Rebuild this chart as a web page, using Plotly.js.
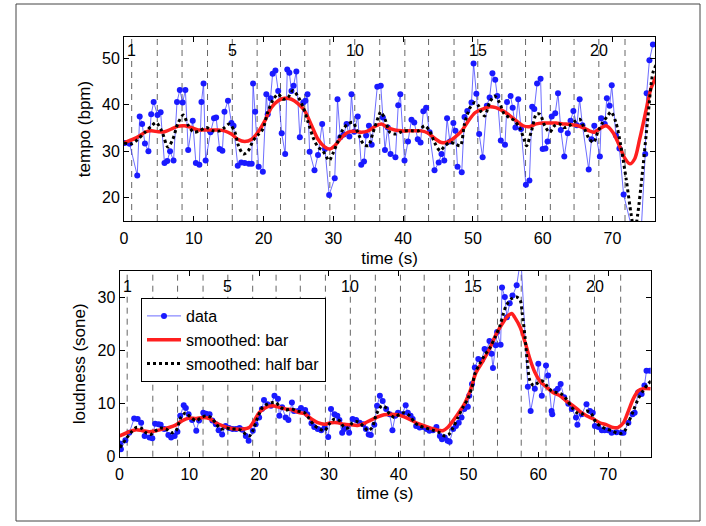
<!DOCTYPE html>
<html>
<head>
<meta charset="utf-8">
<script src="https://cdn.plot.ly/plotly-3.0.1.min.js"></script>
<style>
  html, body { margin: 0; padding: 0; background: #fff; }
  #chart { width: 706px; height: 526px; }
</style>
</head>
<body>
<div id="chart"></div>
<script>
// ---------- data ----------
// bar-line times (s), bars 1..21
const barTimes = [1.1, 4.77, 8.32, 11.97, 15.52, 19.08, 22.43, 25.9, 29.5, 33.07, 36.65,
  40.25, 43.65, 47.3, 50.7, 54.15, 57.55, 61.1, 64.5, 68.05, 71.8];
const barLabels = ["1", "5", "10", "15", "20"];
const barLabelIdx = [0, 4, 9, 14, 19];

// tempo (bpm) data
const tempoT = [0.1,0.8,1.9,2.25,2.6,3.0,3.5,3.9,4.25,4.8,5.25,5.8,6.2,6.6,7.1,7.6,8.0,8.4,8.8,9.2,
  9.85,10.3,10.8,11.1,11.4,11.7,12.4,12.9,13.2,13.7,14.1,14.4,14.9,15.4,15.7,16.3,16.8,17.3,17.9,18.3,
  18.5,18.8,19.3,19.9,20.4,20.6,21.0,21.3,21.7,22.1,22.6,23.1,23.4,23.7,24.0,24.3,24.7,25.2,25.7,26.0,
  26.3,26.6,27.3,27.8,28.4,28.8,29.4,30.2,30.6,31.0,31.5,31.9,32.3,32.6,33.0,33.5,34.0,34.4,34.7,35.1,
  35.5,36.3,36.8,37.1,37.4,37.8,38.2,38.9,39.3,39.6,40.2,40.7,41.2,41.6,42.1,42.5,42.9,43.3,43.8,44.5,
  45.1,45.5,45.9,46.3,46.7,47.2,47.5,47.8,48.4,48.8,49.2,49.8,50.1,50.5,50.9,51.4,52.0,52.4,52.8,53.2,
  53.5,54.0,54.6,54.9,55.4,55.7,56.1,56.5,56.9,57.6,58.1,58.5,58.8,59.2,59.7,60.0,60.4,60.7,61.3,61.8,
  62.2,62.6,63.1,63.6,64.0,64.4,64.9,65.3,65.7,66.6,67.0,67.4,68.2,68.4,68.9,69.2,69.6,69.9,70.5,71.0,
  71.6,73.0,73.9,74.7,74.9,75.3,75.8];
const tempoV = [31.8,31.6,24.8,37.5,35.9,31.7,30.0,38.0,40.6,37.8,38.4,27.5,27.9,30.0,28.0,40.6,43.2,40.5,43.2,30.3,
  36.6,27.5,27.1,40.6,44.6,28.0,34.1,37.1,37.3,30.5,30.1,38.5,40.9,36.1,35.5,26.9,27.6,27.5,27.3,27.3,
  44.6,38.5,26.7,25.6,42.3,38.0,41.4,46.7,47.4,43.0,33.9,29.4,47.6,46.9,43.0,44.1,47.2,33.0,40.5,40.9,
  42.3,29.9,25.9,29.2,35.9,30.5,20.6,24.2,41.2,33.0,33.6,35.9,33.2,42.3,34.2,37.5,27.1,27.8,33.4,35.5,
  31.4,43.9,44.1,37.3,30.3,35.1,29.4,28.7,39.9,42.3,28.0,32.1,36.8,36.2,32.6,31.9,38.6,39.4,34.1,25.9,
  27.6,29.4,28.0,37.1,32.1,36.1,34.4,26.7,25.5,37.4,38.7,40.5,48.9,42.4,33.7,28.7,39.8,41.6,46.8,45.4,
  41.9,32.3,31.4,40.6,41.9,39.4,35.1,41.2,34.8,22.8,23.7,39.6,39.1,44.6,45.6,30.5,30.6,32.1,37.5,38.2,
  42.5,34.6,28.9,33.9,36.6,38.7,35.6,41.2,35.6,26.1,32.6,35.5,28.9,37.1,35.9,41.4,39.8,44.2,33.4,30.6,
  20.7,11.5,6.5,29.4,42.5,49.6,53.0];

// tempo smoothed over one bar
const tempoBarT = [0,2,3,3.9,4.9,5.8,6.8,7.7,8.7,9.7,10.6,11.6,12.5,13.5,14.4,15.4,16.3,17.3,18.3,19.2,
  20.2,21.1,22.1,23.0,24.0,24.9,25.9,26.9,27.8,28.8,29.5,30.2,31.2,32.1,33.1,34.0,35.0,36.0,36.9,37.8,
  38.8,39.8,40.7,41.7,42.6,43.6,44.5,45.5,46.5,47.4,48.4,49.3,50.3,51.4,52.4,53.3,54.3,55.2,56.2,57.2,
  58.1,59.1,60.0,61.0,61.9,62.9,63.8,64.8,65.75,66.7,67.4,68.1,69.1,70.05,71.0,71.7,72.5,73.2,73.9,74.8,
  75.5,76.3];
const tempoBarV = [31.8,33.1,34.1,34.4,34.2,34.2,34.8,35.4,35.5,35.1,34.6,34.6,34.6,34.6,34.4,33.7,32.6,32.1,32.6,34.1,
  36.6,39.4,40.9,41.4,41.2,40.3,38.7,35.5,32.6,30.9,30.5,31.2,33.0,34.1,34.3,34.1,34.4,35.4,35.9,35.1,
  34.6,34.4,34.4,34.4,34.4,33.9,32.8,31.9,32.1,33.0,34.4,36.4,38.3,39.1,39.6,39.4,38.7,37.8,36.6,35.5,
  35.3,35.9,36.1,36.1,36.1,35.9,35.8,35.6,35.1,34.4,34.1,34.8,35.5,34.1,31.2,28.7,27.3,28.4,32.6,38.7,
  43.4,46.2];

// tempo smoothed over half a bar
const tempoHalfT = [0,1.05,2.0,3.0,3.9,4.6,5.4,6.3,7.0,7.7,8.5,9.2,10.0,10.8,11.8,12.8,13.7,14.4,15.1,15.9,
  16.4,17.1,17.8,18.5,19.2,19.9,20.6,21.4,22.1,22.8,23.5,24.2,24.9,25.7,26.4,27.1,27.8,28.5,29.4,29.9,
  30.7,31.4,32.1,32.8,33.5,34.3,35.0,35.7,36.5,36.8,37.4,38.1,38.9,39.6,40.2,41.2,42.2,43.1,43.8,44.5,
  45.3,46.0,46.7,47.4,48.2,48.8,49.6,50.3,50.8,51.2,51.7,52.4,53.1,53.8,54.5,55.2,55.95,56.7,57.4,57.7,
  58.4,59.1,59.6,60.3,61.0,61.7,62.4,63.1,63.8,64.6,65.3,66.0,66.7,67.3,67.9,68.6,69.3,69.8,70.5,71.2,
  71.96,72.7,73.15,73.6,74.35,75.1,75.8,76.3];
const tempoHalfV = [31.8,31.6,32.6,34.1,35.4,36.2,34.4,30.9,32.6,35.9,37.8,35.6,34.1,34.4,35.1,34.4,34.4,35.1,35.9,34.1,
  31.2,29.4,30.1,32.3,33.5,34.8,38.4,41.2,42.3,41.2,41.6,43.1,41.9,39.4,36.2,33.0,30.9,30.1,28.0,29.4,
  32.3,34.8,35.9,36.2,34.1,31.6,31.2,34.1,37.6,38.5,36.9,34.1,33.7,34.1,34.4,34.4,34.4,35.5,34.4,31.9,
  30.1,31.2,31.9,31.6,31.2,35.9,39.4,40.5,39.8,38.4,37.6,40.5,41.9,40.5,38.0,37.3,36.6,35.1,32.3,31.2,
  34.4,38.0,38.0,35.5,34.1,35.5,35.9,35.1,35.5,36.4,36.9,34.8,32.6,31.9,34.1,36.2,37.6,38.5,36.2,31.2,
  24.1,16.2,12.5,16.2,26.2,37.6,46.9,48.7];

// loudness (sone) data
const loudT = [0.07,0.2,0.84,1.4,2.1,2.6,3.1,3.6,4.3,4.7,5.1,5.6,5.9,6.4,7.0,7.4,7.9,8.3,8.7,9.2,
  9.5,9.9,10.4,11.0,11.4,12.0,12.4,12.9,13.3,13.8,14.2,14.7,15.2,15.7,16.2,16.7,17.2,17.6,18.1,18.5,
  19.1,19.5,20.0,20.4,20.7,21.2,21.7,22.2,22.7,22.9,23.3,23.8,24.2,24.7,25.0,25.6,26.0,26.6,26.9,27.5,
  27.9,28.4,28.9,29.4,29.9,30.3,30.8,31.2,31.5,31.9,32.2,32.6,32.9,33.4,33.9,34.4,34.9,35.3,35.7,36.0,
  36.5,36.9,37.3,37.7,38.2,38.7,39.1,39.5,39.9,40.5,41.0,41.3,41.7,42.0,42.5,43.0,43.5,44.0,44.4,44.9,
  45.4,45.9,46.2,46.6,47.0,47.3,47.8,48.2,48.6,49.0,49.4,49.9,50.1,50.5,50.9,51.4,51.9,52.3,52.6,53.0,
  53.3,53.5,53.9,54.1,54.6,54.8,55.2,55.5,55.9,56.3,56.9,57.5,58.5,58.9,59.5,60.0,60.5,61.1,61.4,61.9,
  62.0,62.5,62.8,63.2,63.7,64.3,64.8,65.4,65.6,66.2,66.9,67.4,67.8,68.1,68.6,69.1,69.5,70.0,70.5,71.2,
  71.9,72.2,72.9,73.5,73.8,74.3,74.8,75.2,75.5,76.0];
const loudV = [2.5,1.4,3.1,4.5,7.2,7.1,6.4,3.9,3.6,3.5,6.2,6.1,6.0,5.2,4.1,3.6,3.9,4.7,7.7,9.7,
  9.2,8.0,6.9,4.9,6.8,8.3,8.1,8.0,6.8,6.1,5.0,4.2,5.8,5.4,5.2,5.2,5.4,5.1,3.9,3.0,
  4.9,6.1,7.4,9.0,10.7,9.9,9.6,11.5,10.9,7.7,9.3,7.4,6.9,10.2,8.6,8.6,9.2,8.8,8.0,6.3,
  5.6,5.2,5.0,5.5,3.7,9.0,8.0,7.7,6.9,4.5,5.2,5.8,4.5,7.1,6.9,6.4,6.1,5.2,4.2,4.1,
  6.0,9.6,11.5,10.5,9.0,8.0,5.0,7.7,8.3,8.0,9.7,8.3,7.7,7.1,5.8,5.5,5.6,5.2,4.9,5.0,
  5.6,3.9,3.3,3.6,3.0,2.8,5.2,5.8,6.4,7.4,9.0,9.4,11.5,13.7,16.8,18.4,18.2,20.3,20.0,21.8,
  19.4,16.7,21.0,23.5,21.1,31.9,30.1,26.3,28.9,30.4,32.3,37.5,13.2,8.6,12.8,17.5,11.5,17.2,15.3,8.6,
  8.0,12.4,12.8,13.7,11.2,10.0,9.0,7.4,6.0,8.0,9.9,8.6,8.3,5.8,5.6,5.0,5.0,5.0,4.5,4.6,
  4.5,4.5,6.4,8.0,8.3,12.1,11.8,13.4,16.2,16.2];

// loudness smoothed over one bar
const loudBarT = [0,1.4,2.4,3.3,4.3,5.2,6.2,7.1,8.1,9.0,10.0,11.0,11.9,12.9,13.8,14.8,15.7,16.7,17.6,18.6,
  19.3,20.0,21.0,21.9,22.9,23.8,24.8,25.7,26.5,27.5,28.4,29.4,30.3,31.3,32.2,33.2,34.1,35.1,36.0,37.0,
  37.9,38.9,39.9,40.8,41.8,42.7,43.7,44.6,45.6,46.3,47.0,47.8,48.5,49.4,50.2,51.1,52.1,53.1,54.0,55.0,
  55.7,56.2,56.6,57.4,58.1,58.8,59.5,60.2,61.2,62.1,63.1,64.0,65.0,65.9,66.9,67.9,68.8,69.8,70.7,71.4,
  72.2,72.9,73.6,74.3,75.0,76.1];
const loudBarV = [3.9,4.7,5.1,4.9,4.7,4.9,5.2,5.5,6.0,6.8,7.3,7.2,7.4,7.2,6.4,5.8,5.4,5.2,5.2,5.5,
  6.8,8.3,9.3,9.6,9.3,9.0,8.8,8.3,8.1,7.1,6.4,6.1,6.4,6.4,6.1,6.0,5.9,6.3,6.9,7.5,
  7.9,8.0,7.9,7.5,6.9,6.3,5.8,5.4,5.0,4.9,5.5,6.8,8.1,9.9,12.3,15.9,18.1,20.6,23.2,25.4,
  26.6,27.0,26.3,24.4,21.6,18.4,15.9,14.3,13.1,12.1,11.5,10.5,9.6,8.6,7.7,7.1,6.4,6.0,5.5,5.5,
  6.4,8.6,10.9,12.4,12.8,12.8];

// loudness smoothed over half a bar
const loudHalfT = [0.07,0.9,1.6,2.4,3.1,3.8,4.5,5.2,5.9,6.7,7.4,8.1,8.8,9.5,10.2,11.0,11.7,12.4,13.1,13.8,
  14.5,15.3,16.0,16.7,17.4,18.1,18.6,19.1,19.8,20.5,21.2,21.9,22.4,23.1,23.8,24.6,25.5,26.5,27.2,27.9,
  28.7,29.4,30.0,30.8,31.5,32.2,32.7,33.4,34.1,34.9,35.6,36.2,36.8,37.6,38.1,38.7,39.4,40.1,40.8,41.6,
  42.3,43.0,43.7,44.4,45.1,45.9,46.6,47.2,47.8,48.5,49.2,49.9,50.5,50.9,51.6,52.3,53.1,53.8,54.5,55.0,
  55.4,56.2,56.9,57.4,57.7,58.1,58.4,58.8,59.3,59.7,60.5,61.2,61.9,62.6,63.3,64.0,64.8,65.5,66.2,66.9,
  67.6,68.3,69.1,69.8,70.5,71.2,71.9,72.4,72.9,73.6,74.3,75.0,75.7,76.2];
const loudHalfV = [1.7,3.3,4.5,5.5,5.4,4.5,4.2,4.9,5.4,5.2,4.5,4.9,7.4,8.3,7.4,6.8,7.4,7.7,7.4,6.3,
  5.2,5.4,5.2,5.2,5.0,4.2,3.9,4.9,7.4,9.3,9.9,10.2,10.2,9.3,8.8,9.0,8.6,8.3,7.1,5.9,
  5.2,4.9,6.1,7.1,6.8,5.5,5.4,6.4,6.6,5.8,4.9,5.5,8.0,9.6,9.3,8.0,7.4,8.0,8.3,7.7,
  6.4,5.8,5.5,5.2,4.9,4.5,3.9,4.2,5.5,7.4,9.3,10.9,13.1,15.6,17.5,19.1,20.6,22.5,24.7,27.0,
  28.5,29.8,30.1,29.5,27.0,22.5,18.1,14.3,13.4,13.7,14.3,13.4,12.4,12.1,11.8,10.9,9.3,8.3,8.0,8.6,
  8.1,6.4,5.6,5.2,4.9,4.5,4.4,4.9,6.4,8.6,10.9,12.4,13.7,14.3];

const tempoTicks = [20, 30, 40, 50];
const loudTicks = [0, 10, 20, 30];
const timeTicks = [0, 10, 20, 30, 40, 50, 60, 70];

// ---------- styling ----------
const FONT = "Liberation Sans, Arial, Helvetica, sans-serif";
const blue = "#1a1aff";
const red = "#ff1f1f";

function dataTrace(x, y, xa, ya, show) {
  return {x: x, y: y, xaxis: xa, yaxis: ya, type: "scatter", mode: "lines+markers",
    name: "data", showlegend: show,
    line: {color: "rgba(60,60,255,0.75)", width: 1},
    marker: {color: blue, size: 6, line: {width: 0}}};
}
function barTrace(x, y, xa, ya, show) {
  return {x: x, y: y, xaxis: xa, yaxis: ya, type: "scatter", mode: "lines",
    name: "smoothed: bar", showlegend: show,
    line: {color: red, width: 3.5, shape: "spline", smoothing: 0.8}};
}
function halfTrace(x, y, xa, ya, show) {
  return {x: x, y: y, xaxis: xa, yaxis: ya, type: "scatter", mode: "lines",
    name: "smoothed: half bar", showlegend: show,
    line: {color: "#000", width: 3, dash: "dot", shape: "spline", smoothing: 0.8}};
}

const traces = [
  dataTrace(tempoT, tempoV, "x", "y", false),
  barTrace(tempoBarT, tempoBarV, "x", "y", false),
  halfTrace(tempoHalfT, tempoHalfV, "x", "y", false),
  dataTrace(loudT, loudV, "x2", "y2", true),
  barTrace(loudBarT, loudBarV, "x2", "y2", true),
  halfTrace(loudHalfT, loudHalfV, "x2", "y2", true)
];

const shapes = [];
const annotations = [];
[["x", "y", 0.924], ["x2", "y2", 0.914]].forEach(function (ax) {
  barTimes.forEach(function (t) {
    shapes.push({type: "line", xref: ax[0], yref: ax[1] + " domain", x0: t, x1: t, y0: 0, y1: 1,
      layer: "below", line: {color: "#666", width: 1, dash: "6px,5px"}});
  });
  barLabelIdx.forEach(function (i, k) {
    annotations.push({xref: ax[0], yref: ax[1] + " domain", x: barTimes[i], y: ax[2],
      text: barLabels[k], showarrow: false, xanchor: "center", yanchor: "middle",
      font: {family: FONT, size: 16, color: "#000"}});
  });
});
// figure frame
shapes.push({type: "rect", xref: "paper", yref: "paper", x0: 16/706, x1: 700/706, y0: 1-521/526, y1: 1-4/526,
  line: {color: "#444", width: 1}, layer: "below"});

function xAxis(domain, anchor) {
  return {domain: domain, anchor: anchor, range: [0, 76.1], tickvals: timeTicks,
    ticks: "inside", ticklen: 5, tickcolor: "#000", showline: true, linecolor: "#000", linewidth: 1,
    mirror: "ticks", showgrid: false, zeroline: false, ticklabelstandoff: 3,
    tickfont: {family: FONT, size: 16, color: "#000"},
    title: {text: "time (s)", font: {family: FONT, size: 17, color: "#000"}, standoff: 5}};
}
function yAxis(domain, anchor, range, ticks, title) {
  return {domain: domain, anchor: anchor, range: range, tickvals: ticks,
    ticks: "inside", ticklen: 5, tickcolor: "#000", showline: true, linecolor: "#000", linewidth: 1,
    mirror: "ticks", showgrid: false, zeroline: false,
    tickfont: {family: FONT, size: 16, color: "#000"},
    title: {text: title, font: {family: FONT, size: 17, color: "#000"}, standoff: 7}};
}

const layout = {
  width: 706, height: 526,
  margin: {l: 0, r: 0, t: 0, b: 0},
  paper_bgcolor: "#fff", plot_bgcolor: "#fff",
  font: {family: FONT, size: 16, color: "#000"},
  xaxis: xAxis([124/706, 655/706], "y"),
  yaxis: yAxis([1-221/526, 1-37/526], "x", [15, 54.6], tempoTicks, "tempo (bpm)"),
  xaxis2: xAxis([119.5/706, 650.7/706], "y2"),
  yaxis2: yAxis([1-456.7/526, 1-271/526], "x2", [0, 35], loudTicks, "loudness (sone)"),
  showlegend: true,
  legend: {x: 141/706, y: 1-298/526, xanchor: "left", yanchor: "top",
    bordercolor: "#000", borderwidth: 1, bgcolor: "#fff",
    font: {family: FONT, size: 16, color: "#000"}, itemwidth: 34, tracegroupgap: 0,
    entrywidth: 208},
  shapes: shapes,
  annotations: annotations
};

Plotly.newPlot("chart", traces, layout, {displayModeBar: false, staticPlot: true});
</script>
</body>
</html>
